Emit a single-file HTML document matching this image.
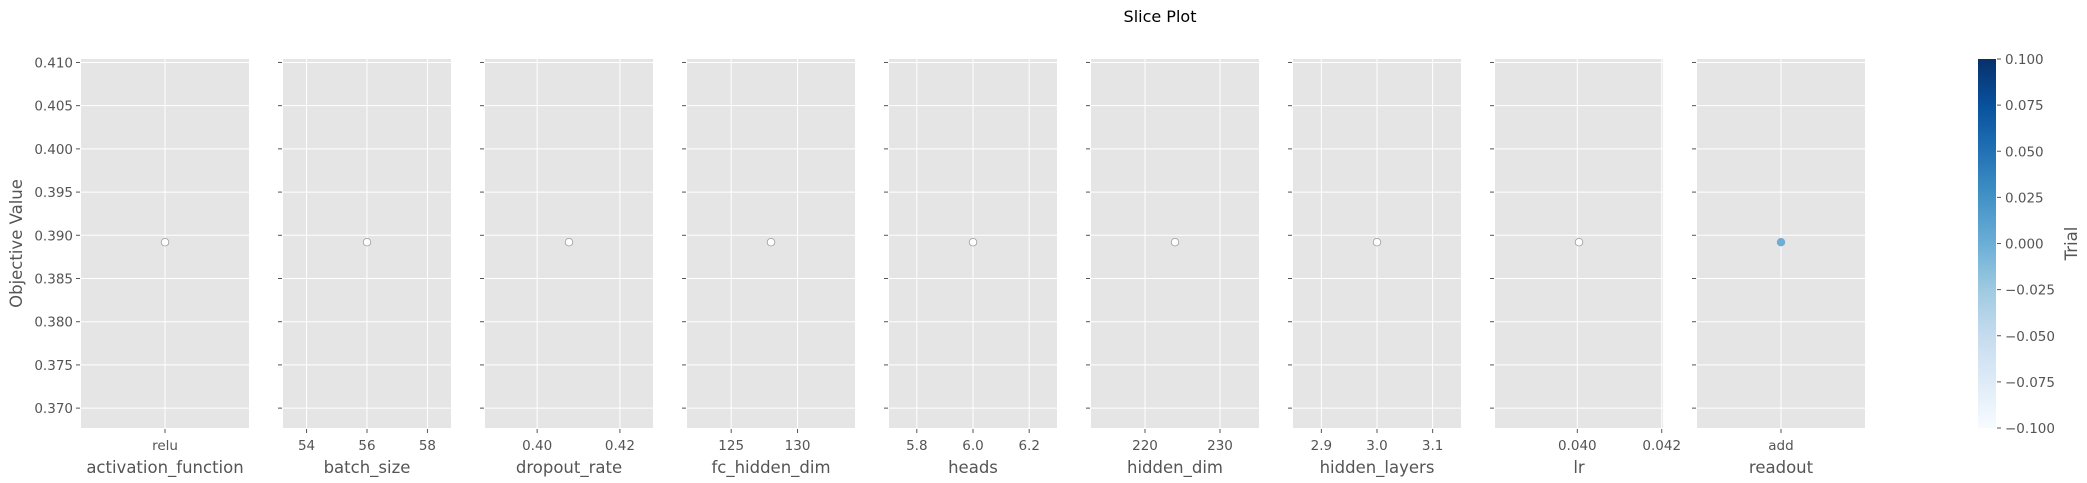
<!DOCTYPE html>
<html><head><meta charset="utf-8"><style>
html,body{margin:0;padding:0;background:#fff;}
svg{display:block;font-family:"DejaVu Sans","Liberation Sans",sans-serif;}
</style></head><body>
<svg id="chart" width="2087" height="483" xmlns="http://www.w3.org/2000/svg">
<defs><linearGradient id="blues" x1="0" y1="1" x2="0" y2="0">
<stop offset="0" stop-color="#f7fbff"/><stop offset="0.125" stop-color="#deebf7"/><stop offset="0.25" stop-color="#c6dbef"/><stop offset="0.375" stop-color="#9ecae1"/><stop offset="0.5" stop-color="#6baed6"/><stop offset="0.625" stop-color="#4292c6"/><stop offset="0.75" stop-color="#2171b5"/><stop offset="0.875" stop-color="#08519c"/><stop offset="1" stop-color="#08306b"/>
</linearGradient></defs>
<text x="1160" y="22" text-anchor="middle" font-size="16" fill="#000">Slice Plot</text>
</svg>
<script>
const params = ["activation_function","batch_size","dropout_rate","fc_hidden_dim","heads","hidden_dim","hidden_layers","lr","readout"];
const paramValues = ["relu",56,0.4077,128,6.0,224,3.0,0.04004,"add"];
const objectiveValues = [0.3892,0.3892,0.3892,0.3892,0.3892,0.3892,0.3892,0.3892,0.3892];
const trialValues = [0,0,0,0,0,0,0,0,0];
const xDomains = [null,[53.22,58.78],[0.3874,0.4280],[121.67,134.33],[5.701,6.299],[212.8,235.2],[2.849,3.151],[0.03805,0.04203],null];
const xTicks = [["relu"],[54,56,58],[0.40,0.42],[125,130],[5.8,6.0,6.2],[220,230],[2.9,3.0,3.1],[0.040,0.042],["add"]];
const xTickLabels = [["relu"],["54","56","58"],["0.40","0.42"],["125","130"],["5.8","6.0","6.2"],["220","230"],["2.9","3.0","3.1"],["0.040","0.042"],["add"]];
const yTicks = [0.370,0.375,0.380,0.385,0.390,0.395,0.400,0.405,0.410];
const yDomain = [0.3677,0.4104];
const cbTicks = [-0.100,-0.075,-0.050,-0.025,0.000,0.025,0.050,0.075,0.100];
const cbTickLabels = ["\u22120.100","\u22120.075","\u22120.050","\u22120.025","0.000","0.025","0.050","0.075","0.100"];
const cbDomain = [-0.1,0.1];

const svg = document.getElementById('chart');
const NS = 'http://www.w3.org/2000/svg';
function mk(tag, attrs, parent){const e=document.createElementNS(NS,tag);for(const k in attrs)e.setAttribute(k,attrs[k]);(parent||svg).appendChild(e);return e;}
const plotTop=59, plotBottom=428, pw=168, pitch=202, left0=81;
function yScale(v){return plotBottom-(v-yDomain[0])/(yDomain[1]-yDomain[0])*(plotBottom-plotTop);}
function blues(t){const s=[[247,251,255],[222,235,247],[198,219,239],[158,202,225],[107,174,214],[66,146,198],[33,113,181],[8,81,156],[8,48,107]];t=Math.max(0,Math.min(1,t))*8;const i=Math.min(7,Math.floor(t)),f=t-i;const c=s[i].map((a,j)=>Math.round(a+(s[i+1][j]-a)*f));return `rgb(${c[0]},${c[1]},${c[2]})`;}

params.forEach((p,i)=>{
  const L=left0+i*pitch;
  const g=mk('g',{});
  
  
  const bg=mk('rect',{x:L,y:plotTop,width:pw,height:plotBottom-plotTop,fill:'#e5e5e5'},g);
  
  
  const xs = xDomains[i] ? (v=>L+(v-xDomains[i][0])/(xDomains[i][1]-xDomains[i][0])*pw) : (v=>L+pw/2);
  yTicks.forEach((t,k)=>{
    const y=yScale(t);
    mk('line',{x1:L,x2:L+pw,y1:y,y2:y,stroke:'#fff','stroke-width':1},g);
    mk('line',{x1:L-5,x2:L-1,y1:y,y2:y,stroke:'#555','stroke-width':1},g);
    if(i===0){const tl=mk('text',{x:L-8,y:y+5,'text-anchor':'end','font-size':13.5,fill:'#555'},g);tl.textContent=t.toFixed(3);
      
      }
  });
  xTicks[i].forEach((t,k)=>{
    const x=xs(t);
    mk('line',{x1:x,x2:x,y1:plotTop,y2:plotBottom,stroke:'#fff','stroke-width':1},g);
    mk('line',{x1:x,x2:x,y1:plotBottom+1,y2:plotBottom+5,stroke:'#555','stroke-width':1},g);
    const tl=mk('text',{x:x,y:plotBottom+22,'text-anchor':'middle','font-size':13.5,fill:'#555'},g);
    tl.textContent=xTickLabels[i][k];
    
    
  });
  const xl=mk('text',{x:L+pw/2,y:plotBottom+45,'text-anchor':'middle','font-size':16.5,fill:'#555'},g);
  xl.textContent=p;
  
  
  const filled = (p==='readout');
  const c=mk('circle',{cx:xs(paramValues[i]),cy:yScale(objectiveValues[i]),r:3.8,fill:filled?blues((trialValues[i]-cbDomain[0])/(cbDomain[1]-cbDomain[0])):'#fff',stroke:filled?'#7aa7c7':'#9a9a9a','stroke-width':0.8},g);
  
  
});
const yt=mk('text',{x:0,y:0,transform:`translate(22,${(plotTop+plotBottom)/2}) rotate(-90)`,'text-anchor':'middle','font-size':16.5,fill:'#555'});
yt.textContent='Objective Value';



const cb=mk('g',{});


mk('rect',{x:1978,y:plotTop,width:18,height:plotBottom-plotTop,fill:'url(#blues)'},cb);
cbTicks.forEach((t,k)=>{
  const y=plotBottom-(t-cbDomain[0])/(cbDomain[1]-cbDomain[0])*(plotBottom-plotTop);
  mk('line',{x1:1997,x2:2001,y1:y,y2:y,stroke:'#555','stroke-width':1},cb);
  const tl=mk('text',{x:2005,y:y+5,'font-size':13.5,fill:'#555'},cb);
  tl.textContent=cbTickLabels[k];
  
  
});
const ct=mk('text',{x:0,y:0,transform:`translate(2077,${(plotTop+plotBottom)/2}) rotate(-90)`,'text-anchor':'middle','font-size':16.5,fill:'#555'},cb);
ct.textContent='Trial';


</script>
</body></html>
